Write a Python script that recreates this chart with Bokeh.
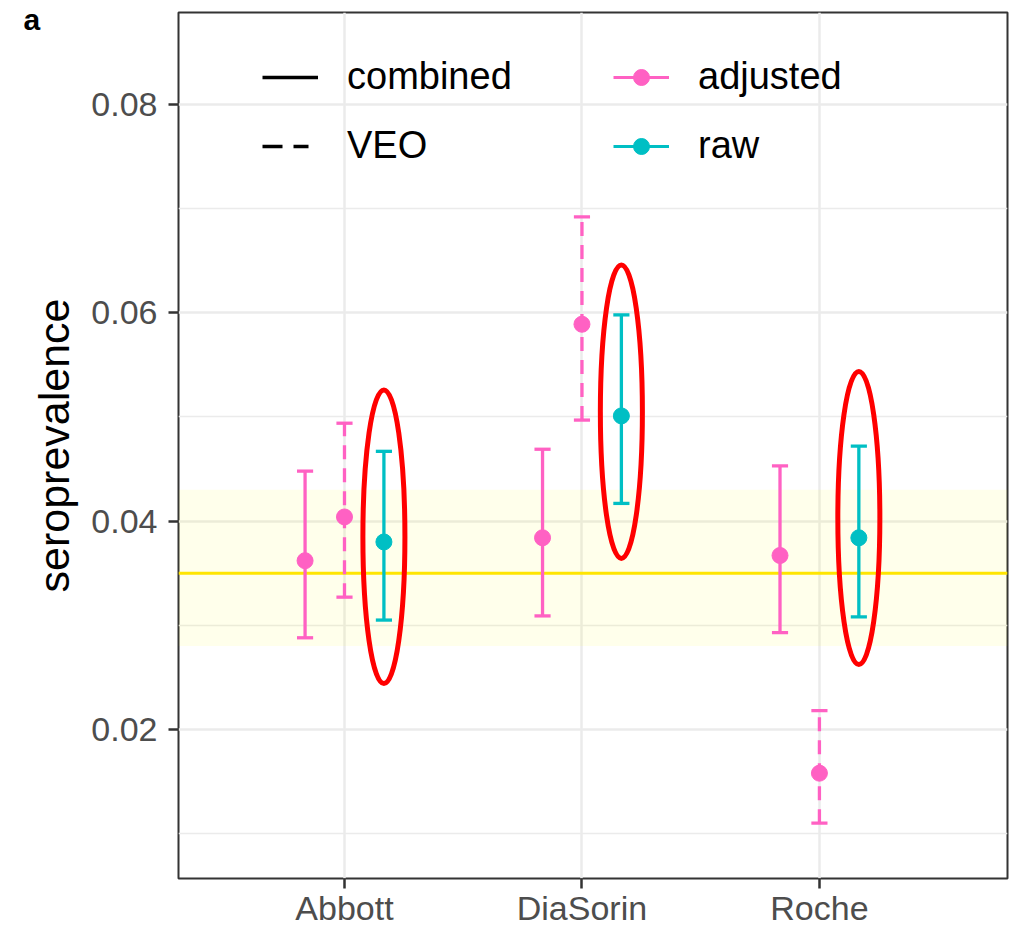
from bokeh.plotting import figure
from bokeh.models import (FixedTicker, Legend, LegendItem, BoxAnnotation, Span,
                          Title, PrintfTickFormatter, Range1d, ColumnDataSource)
from bokeh.embed import file_html
from bokeh.resources import INLINE

# ---------------- data ----------------
assays = ["Abbott", "DiaSorin", "Roche"]

adj_comb_est = [0.0362, 0.0384, 0.0367]
adj_comb_lo = [0.0288, 0.0309, 0.0293]
adj_comb_hi = [0.0448, 0.0469, 0.0453]

adj_veo_est = [0.0404, 0.0589, 0.0158]
adj_veo_lo = [0.0327, 0.0497, 0.0110]
adj_veo_hi = [0.0494, 0.0692, 0.0218]

raw_comb_est = [0.0380, 0.0501, 0.0384]
raw_comb_lo = [0.0305, 0.0417, 0.0308]
raw_comb_hi = [0.0467, 0.0598, 0.0472]

overall_est = 0.035
overall_lo = 0.028
overall_hi = 0.043

highlight_center = [0.0385, 0.0505, 0.0403]
highlight_height = [0.0282, 0.0282, 0.0282]

y_ticks = [0.02, 0.04, 0.06, 0.08]
y_minor = [0.01, 0.03, 0.05, 0.07]

# ---------------- style ----------------
PINK = "#FF61C3"
TEAL = "#00BFC4"
FONT = "Liberation Sans"
DODGE = 0.166
CAP = 0.034
X0, X1 = 0.301, 3.792
Y0, Y1 = 0.00569, 0.08883

p = figure(width=1015, height=929,
           x_range=Range1d(X0, X1), y_range=Range1d(Y0, Y1),
           output_backend="svg", toolbar_location=None,
           min_border_left=178, min_border_right=8, min_border_top=12, min_border_bottom=51)

p.background_fill_color = "white"
p.border_fill_color = "white"
p.outline_line_color = "#333333"
p.outline_line_width = 2

xpos = list(range(1, len(assays) + 1))

# grid
p.xgrid.ticker = FixedTicker(ticks=xpos)
p.xgrid.grid_line_color = "#EBEBEB"
p.xgrid.grid_line_width = 2.5
yt = FixedTicker(ticks=y_ticks, minor_ticks=y_minor)
p.yaxis.ticker = yt
p.ygrid.ticker = yt
p.ygrid.grid_line_color = "#EBEBEB"
p.ygrid.grid_line_width = 2.5
p.ygrid.minor_grid_line_color = "#EBEBEB"
p.ygrid.minor_grid_line_width = 1.3

# axes
p.xaxis.ticker = FixedTicker(ticks=xpos)
p.xaxis.major_label_overrides = {i: a for i, a in zip(xpos, assays)}
p.yaxis.formatter = PrintfTickFormatter(format="%.2f")
for ax in (p.xaxis, p.yaxis):
    ax.axis_line_color = None
    ax.major_tick_line_color = "#333333"
    ax.major_tick_line_width = 2.5
    ax.major_tick_in = 0
    ax.minor_tick_line_color = None
    ax.major_label_text_font = FONT
    ax.major_label_text_font_size = "34px"
    ax.major_label_text_color = "#4D4D4D"
p.xaxis.major_tick_out = 10
p.xaxis.major_label_standoff = 0
p.yaxis.major_tick_out = 10
p.yaxis.major_label_standoff = 11
p.yaxis.axis_label = "seroprevalence"
p.yaxis.axis_label_text_font = FONT
p.yaxis.axis_label_text_font_size = "43px"
p.yaxis.axis_label_text_font_style = "normal"
p.yaxis.axis_label_text_color = "black"
p.yaxis.axis_label_standoff = 10

# overall band & line
band = BoxAnnotation(bottom=overall_lo, top=overall_hi, fill_color="yellow",
                     fill_alpha=0.08, line_color=None, level="underlay")
p.add_layout(band)
p.add_layout(Span(location=overall_est, dimension="width", line_color="#FFE500",
                  line_width=3, level="underlay"))


def errbars(offset, est, lo, hi, color, dash):
    xs = [x + offset for x in xpos]
    src = ColumnDataSource(dict(x=xs, est=est, lo=lo, hi=hi,
                                cl=[x - CAP for x in xs], cr=[x + CAP for x in xs]))
    p.segment(x0="x", y0="lo", x1="x", y1="hi", source=src, line_color=color,
              line_width=3.3, line_dash=dash)
    p.segment(x0="cl", y0="hi", x1="cr", y1="hi", source=src, line_color=color, line_width=3.3)
    p.segment(x0="cl", y0="lo", x1="cr", y1="lo", source=src, line_color=color, line_width=3.3)
    p.scatter(x="x", y="est", source=src, size=16, fill_color=color, line_color=color)


errbars(-DODGE, adj_comb_est, adj_comb_lo, adj_comb_hi, PINK, "solid")
errbars(0.0, adj_veo_est, adj_veo_lo, adj_veo_hi, PINK, "14 9")
errbars(DODGE, raw_comb_est, raw_comb_lo, raw_comb_hi, TEAL, "solid")

# highlight ellipses around raw estimates
p.ellipse(x=[x + DODGE for x in xpos], y=highlight_center, width=0.177,
          height=highlight_height, fill_color=None, line_color="#FF0000", line_width=5)

# legend-only renderers (hidden; they carry data so their legend glyphs draw)
r_comb = p.line(x=xpos, y=raw_comb_est, line_color="black", line_width=3.5, visible=False)
r_veo = p.line(x=xpos, y=raw_comb_est, line_color="black", line_width=3.5,
               line_dash="20 11 15 20", visible=False)
r_adj_l = p.line(x=xpos, y=adj_comb_est, line_color=PINK, line_width=3, visible=False)
r_adj_p = p.scatter(x=xpos, y=adj_comb_est, size=13, fill_color=PINK, line_color=PINK,
                    visible=False)
r_raw_l = p.line(x=xpos, y=raw_comb_est, line_color=TEAL, line_width=3, visible=False)
r_raw_p = p.scatter(x=xpos, y=raw_comb_est, size=13, fill_color=TEAL, line_color=TEAL,
                    visible=False)


def make_legend(items, loc):
    lg = Legend(items=items, location=loc, orientation="vertical",
                background_fill_alpha=0, border_line_color=None,
                padding=0, margin=0, spacing=26,
                glyph_width=56, glyph_height=40, label_height=40,
                label_standoff=29, label_text_font=FONT,
                label_text_font_size="38px", label_text_color="black",
                inactive_fill_alpha=0, click_policy="none")
    p.add_layout(lg)


make_legend([LegendItem(label="combined", renderers=[r_comb]),
             LegendItem(label="VEO", renderers=[r_veo])], (84, 711))
make_legend([LegendItem(label="adjusted", renderers=[r_adj_l, r_adj_p]),
             LegendItem(label="raw", renderers=[r_raw_l, r_raw_p])], (435, 711))

# panel tag "a" in the top-left margin (title with negative standoff so it
# does not push the frame down)
p.add_layout(Title(text="a", align="left", vertical_align="bottom", offset=-155,
                   standoff=-47, text_font=FONT, text_font_size="30px",
                   text_font_style="bold", text_color="black"), "above")

open("out.html", "w").write(file_html(p, INLINE))
